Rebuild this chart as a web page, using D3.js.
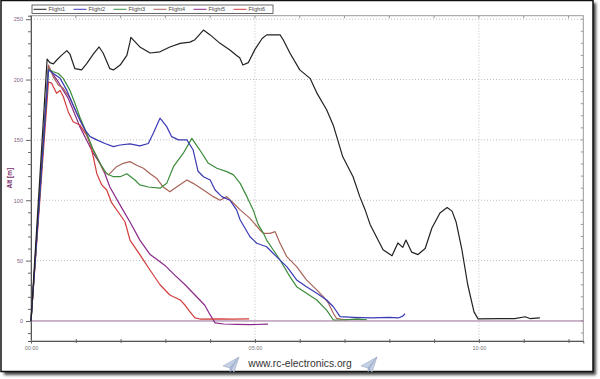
<!DOCTYPE html>
<html>
<head>
<meta charset="utf-8">
<script src="https://cdn.jsdelivr.net/npm/d3@7"></script>
<style>
  html, body { margin: 0; padding: 0; background: #fff; }
  svg { display: block; }
</style>
</head>
<body>
<svg id="chart" width="600" height="379"></svg>
<script>
// ---------- DATA (time in minutes, altitude in m) ----------
const seriesNames = ["Flight1", "Flight2", "Flight3", "Flight4", "Flight5", "Flight6"];
const seriesColors = ["#222222", "#3a3ab4", "#3c8c3c", "#a8645a", "#8a2a8a", "#d23c3c"];

const flight1 = [[0,0],[0.36,217],[0.42,214],[0.50,213],[0.57,216],[0.68,220],[0.80,224],[0.87,221],[0.98,209],[1.13,208],[1.24,213],[1.39,221],[1.52,227],[1.61,222],[1.76,209],[1.84,208],[1.99,212],[2.14,220],[2.21,231],[2.23,235],[2.43,227],[2.66,222],[2.88,223],[3.10,227],[3.33,230],[3.55,231],[3.66,233],[3.85,241],[4.00,237],[4.22,230],[4.44,224.5],[4.59,220],[4.66,218],[4.73,212],[4.85,214],[5.00,225],[5.16,234],[5.26,237],[5.48,237],[5.56,237],[5.63,233],[5.78,222],[6.00,208],[6.23,201],[6.38,189],[6.60,175],[6.75,162],[6.96,136],[7.19,119.5],[7.34,103],[7.46,92],[7.57,80],[7.86,59],[8.06,54],[8.19,64.6],[8.30,61],[8.37,67],[8.50,57],[8.64,55],[8.80,60],[8.95,77],[9.13,89.5],[9.29,94],[9.40,91],[9.49,82],[9.62,59],[9.75,30],[9.89,7.5],[9.98,1.7],[10.47,2],[10.80,2],[11.03,3.5],[11.14,2],[11.36,2.5]];
const flight2 = [[0,0],[0.39,208],[0.50,205],[0.65,201],[0.80,191],[0.94,179],[1.09,166.5],[1.21,158],[1.32,152.7],[1.47,150],[1.65,147],[1.84,144.4],[1.99,145.8],[2.21,146.7],[2.43,145],[2.62,147],[2.73,155.5],[2.88,168],[3.03,161],[3.14,152.7],[3.29,150],[3.48,150],[3.62,141.6],[3.73,124],[3.85,119.5],[4.00,116.8],[4.11,108.5],[4.26,103],[4.44,100],[4.59,92],[4.67,83.7],[4.89,69.8],[5.04,64.4],[5.26,61.5],[5.48,53.3],[5.71,45],[5.93,34],[6.15,28.4],[6.38,23],[6.60,17.4],[6.75,11.8],[6.90,3.6],[7.20,3],[7.60,2.5],[8.00,3],[8.20,2.5],[8.30,4],[8.35,6]];
const flight3 = [[0,0],[0.39,208.5],[0.50,206.5],[0.61,205],[0.72,201],[0.87,191],[0.98,180.6],[1.09,169],[1.24,155.7],[1.39,141.6],[1.54,130.6],[1.69,122],[1.84,119.5],[1.99,119.5],[2.14,122],[2.32,116.8],[2.43,112.7],[2.62,111],[2.88,110],[3.03,114],[3.18,127.8],[3.40,139],[3.59,151.3],[3.77,141.6],[3.96,130.6],[4.15,126.5],[4.37,123.7],[4.52,121],[4.67,114],[4.82,103],[4.96,92],[5.07,80],[5.19,72.6],[5.26,67],[5.41,58.8],[5.56,50.5],[5.78,36.7],[5.93,28.4],[6.15,23],[6.38,17.4],[6.60,9],[6.75,0.8],[7.00,1],[7.30,1.5],[7.50,1]];
const flight4 = [[0,0],[0.39,212],[0.50,202],[0.61,195.5],[0.72,192.7],[0.87,184.5],[1.02,172],[1.17,161],[1.32,147],[1.47,136],[1.61,125],[1.73,121],[1.91,127.8],[2.06,130.6],[2.21,132],[2.36,129],[2.51,126.5],[2.66,122],[2.81,118],[2.95,111],[3.10,107],[3.25,111],[3.48,116.8],[3.62,114],[3.85,108.5],[4.07,103],[4.22,100],[4.37,103],[4.52,97.5],[4.67,92],[4.89,85],[5.11,75.4],[5.19,72.6],[5.34,72.6],[5.45,74],[5.56,64.4],[5.71,53.3],[5.93,45],[6.15,34],[6.38,25.7],[6.53,20],[6.64,14.7],[6.75,6.4],[6.82,2.2],[7.00,1],[7.30,1.5],[7.40,1]];
const flight5 = [[0,0],[0.39,210.6],[0.50,203.8],[0.61,198],[0.72,191],[0.83,184.5],[0.94,174.8],[1.09,161],[1.24,150],[1.39,139],[1.54,130.6],[1.65,122],[1.76,111],[1.99,96],[2.21,82],[2.43,67],[2.66,55],[2.88,49],[2.99,46],[3.21,38],[3.44,30],[3.66,21.5],[3.88,13],[4.00,5],[4.11,-1.6],[4.30,-2.5],[4.60,-2.8],[4.90,-3],[5.29,-2.6]];
const flight6 = [[0,0],[0.39,198],[0.46,197],[0.57,188.6],[0.65,191],[0.72,186],[0.83,173.4],[0.94,165],[1.09,162.4],[1.24,154],[1.32,147],[1.39,136],[1.47,122],[1.58,112.7],[1.69,108.5],[1.80,98],[1.99,88],[2.10,82],[2.21,67],[2.43,55],[2.66,42],[2.88,30],[3.10,21.5],[3.33,17.4],[3.44,13],[3.55,7.5],[3.66,2.5],[3.77,1.6],[4.20,1.8],[4.50,1.5],[4.87,1.8]];
const seriesData = [flight1, flight2, flight3, flight4, flight5, flight6];

const yTickValues = [0, 50, 100, 150, 200, 250];
const xTickValues = [0, 5, 10];
const xTickLabels = ["00:00", "05:00", "10:00"];
const yLabel = "Alt [m]";
const footerText = "www.rc-electronics.org";

// ---------- LAYOUT ----------
const svg = d3.select("#chart");
const W = 600, H = 379;
const plot = { left: 31, right: 583.3, top: 15.7, bottom: 341 };

const x = d3.scaleLinear().domain([0, 12.33]).range([plot.left, plot.right]);
const y = d3.scaleLinear().domain([-16.6, 252.9]).range([plot.bottom, plot.top]);

// card frame with shadow
const defs = svg.append("defs");
const f = defs.append("filter").attr("id", "sh").attr("x", "-5%").attr("y", "-5%").attr("width", "110%").attr("height", "110%");
f.append("feGaussianBlur").attr("stdDeviation", 1.5);
svg.append("rect").attr("x", 4).attr("y", 3).attr("width", 592).attr("height", 372)
  .attr("fill", "#444").attr("filter", "url(#sh)");
svg.append("rect").attr("x", 1).attr("y", 0.5).attr("width", 592).attr("height", 371)
  .attr("fill", "#fff").attr("stroke", "#111").attr("stroke-width", 1.5);

// plot border
svg.append("rect").attr("x", plot.left).attr("y", plot.top)
  .attr("width", plot.right - plot.left).attr("height", plot.bottom - plot.top)
  .attr("fill", "none").attr("stroke", "#999").attr("stroke-width", 1);

// gridlines
const grid = svg.append("g");
yTickValues.filter(v => v !== 0).forEach(v => {
  grid.append("line").attr("x1", plot.left).attr("x2", plot.right)
    .attr("y1", y(v)).attr("y2", y(v))
    .attr("stroke", "#bdbdbd").attr("stroke-width", 1).attr("stroke-dasharray", "1,2");
});
xTickValues.filter(v => v !== 0).forEach(v => {
  grid.append("line").attr("y1", plot.top).attr("y2", plot.bottom)
    .attr("x1", x(v)).attr("x2", x(v))
    .attr("stroke", "#bdbdbd").attr("stroke-width", 1).attr("stroke-dasharray", "1,2");
});

// minor ticks on top/right borders
const minutes = d3.range(0, 13);
minutes.forEach(m => {
  if (x(m) > plot.right) return;
  svg.append("line").attr("x1", x(m)).attr("x2", x(m)).attr("y1", plot.top).attr("y2", plot.top + 2.5)
    .attr("stroke", "#999");
});
d3.range(-10, 251, 10).forEach(v => {
  svg.append("line").attr("x1", plot.right - 2.5).attr("x2", plot.right).attr("y1", y(v)).attr("y2", y(v))
    .attr("stroke", "#999");
});

// Y axis
const yAxis = d3.axisLeft(y).tickValues(d3.range(-10, 251, 10)).tickSize(3)
  .tickFormat(d => yTickValues.includes(d) ? d : "");
const gy = svg.append("g").attr("transform", `translate(${plot.left},0)`).call(yAxis);
gy.select(".domain").attr("stroke", "#555");
gy.selectAll(".tick line").attr("stroke", "#666").attr("x2", d => yTickValues.includes(d) ? -5 : -3).attr("x1", 1);
gy.selectAll(".tick text").attr("fill", "#806080").attr("font-size", 5.5)
  .attr("font-family", "Liberation Sans, Arial, sans-serif").attr("x", -8);

// X axis
const xAxis = d3.axisBottom(x).tickValues(minutes.filter(m => x(m) <= plot.right)).tickSize(2.5)
  .tickFormat(d => { const i = xTickValues.indexOf(d); return i >= 0 ? xTickLabels[i] : ""; });
const gx = svg.append("g").attr("transform", `translate(0,${plot.bottom})`).call(xAxis);
gx.select(".domain").attr("stroke", "#555");
gx.selectAll(".tick line").attr("stroke", "#666").attr("y1", -2).attr("y2", 2);
gx.selectAll(".tick text").attr("fill", "#777").attr("font-size", 5.5)
  .attr("font-family", "Liberation Sans, Arial, sans-serif").attr("y", 5);

// zero reference line
svg.append("line").attr("x1", plot.left).attr("x2", plot.right)
  .attr("y1", y(0)).attr("y2", y(0)).attr("stroke", "#9a6a96").attr("stroke-width", 1);

// Y label
svg.append("text").attr("transform", `translate(12,${(y(0)+y(250))/2 + 8}) rotate(-90)`)
  .attr("text-anchor", "middle").attr("font-size", 6.5).attr("font-weight", "bold")
  .attr("font-family", "Liberation Sans, Arial, sans-serif").attr("fill", "#7a2a6a").text(yLabel);

// series lines
const line = d3.line().x(d => x(d[0])).y(d => y(d[1]));
const drawOrder = [4, 5, 3, 2, 1, 0];
drawOrder.forEach(i => {
  svg.append("path").datum(seriesData[i]).attr("d", line)
    .attr("fill", "none").attr("stroke", seriesColors[i]).attr("stroke-width", 1.2)
    .attr("stroke-linejoin", "round");
});

// legend
const lg = svg.append("g");
lg.append("rect").attr("x", 32).attr("y", 5).attr("width", 241).attr("height", 8.5)
  .attr("fill", "#fff").attr("stroke", "#444").attr("stroke-width", 0.8);
seriesNames.forEach((n, i) => {
  const lx = 33.5 + i * 40;
  lg.append("line").attr("x1", lx).attr("x2", lx + 13).attr("y1", 9.3).attr("y2", 9.3)
    .attr("stroke", seriesColors[i]).attr("stroke-width", 1);
  lg.append("text").attr("x", lx + 15).attr("y", 11.3).attr("font-size", 5.5)
    .attr("font-family", "Liberation Sans, Arial, sans-serif").attr("fill", "#444").text(n);
});

// footer
svg.append("text").attr("x", 300).attr("y", 367).attr("text-anchor", "middle")
  .attr("font-size", 10.3).attr("font-family", "Liberation Sans, Arial, sans-serif")
  .attr("fill", "#333").text(footerText);
function plane(cx, cy) {
  const g = svg.append("g").attr("transform", `translate(${cx},${cy})`);
  g.append("path").attr("d", "M-8,2 L8,-7 L3,8 L-1,4 Z").attr("fill", "#c4d0e4").attr("stroke", "#9aaac4").attr("stroke-width", 0.6);
  g.append("path").attr("d", "M8,-7 L-1,4 L-1,8 L1,5").attr("fill", "#aab8d4").attr("stroke", "#8898b8").attr("stroke-width", 0.5);
}
plane(231, 364);
plane(369, 364);
</script>
</body>
</html>
